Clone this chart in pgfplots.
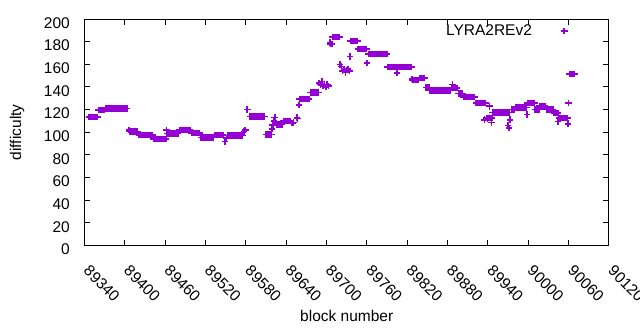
\documentclass[border=0pt]{standalone}
\usepackage{fontspec}
\setmainfont{Liberation Sans}
\usepackage{pgfplots}
\pgfplotsset{compat=1.18}
\definecolor{gpviolet}{RGB}{148,0,211}
\begin{document}
\fontsize{15.5}{18}\selectfont
\begin{tikzpicture}
\useasboundingbox (-84.5pt,-84.5pt) rectangle (555.5pt,245.5pt);
\begin{axis}[
  at={(0pt,0pt)}, anchor=south west,
  scale only axis, width=524.5pt, height=226.5pt,
  xmin=89340, xmax=90120, ymin=0, ymax=200,
  xtick={89340,89400,89460,89520,89580,89640,89700,89760,89820,89880,89940,90000,90060,90120},
  xticklabels={89340,89400,89460,89520,89580,89640,89700,89760,89820,89880,89940,90000,90060,90120},
  ytick={0,20,40,60,80,100,120,140,160,180,200},
  yticklabels={0,20,40,60,80,100,120,140,160,180,200},
  scaled x ticks=false,
  xtick pos=both, ytick pos=both,
  tick align=inside,
  major tick length=5.5pt,
  tick style={line width=1pt, black},
  axis line style={line width=1pt},
  xticklabel style={xshift=2pt, yshift=-22.5pt, rotate=-45, anchor=west, inner sep=0pt},
  yticklabel style={xshift=-14.5pt, yshift=-4pt, anchor=east, inner sep=0pt},
  xlabel={block number},
  ylabel={difficulty},
  xlabel style={at={(axis description cs:0.5,0)}, anchor=center, yshift=-70.5pt, inner sep=0pt},
  ylabel style={at={(axis description cs:-0.1287,0.5)}, anchor=center, inner sep=0pt},
  legend style={draw=none, fill=none, at={(0.689,0.947)}, anchor=west, inner sep=0pt,
    nodes={inner sep=0pt}, /tikz/every odd column/.append style={column sep=29pt}},
  legend plot pos=right,
  legend image code/.code={\draw[#1] plot coordinates {(0pt,0pt)};},
]
\addplot[only marks, mark=+, color=gpviolet, mark size=3.3pt, mark options={line width=1.5pt}] coordinates {
(89347,113.5)(89349,113.5)(89351,113.5)(89353,113.5)(89355,113.5)(89357,113.5)(89359,113.5)
(89361,119.5)(89363,119.5)(89365,119.5)(89367,119.5)(89369,119.5)
(89371,121)(89373,121)(89375,121)(89377,121)(89379,121)(89381,121)(89383,121)(89385,121)(89387,121)(89389,121)(89391,121)(89393,121)(89395,121)(89397,121)(89399,121)(89401,121)(89403,121)
(89406,102)
(89407,100.5)(89409,100.5)(89411,100.5)(89413,100.5)(89415,100.5)(89417,100.5)(89419,100.5)
(89421,97.5)(89423,97.5)(89425,97.5)(89427,97.5)(89429,97.5)(89431,97.5)(89433,97.5)(89435,97.5)(89437,97.5)(89439,97.5)(89441,97.5)
(89443,94)(89445,94)(89447,94)(89449,94)(89451,94)(89453,94)(89455,94)(89457,94)(89459,94)(89461,94)
(89462,102)
(89463,99)(89465,99)(89467,99)(89469,99)(89471,99)(89473,99)(89475,99)(89477,99)(89479,99)
(89481,102)(89483,102)(89485,102)(89487,102)(89489,102)(89491,102)(89493,102)(89495,102)(89497,102)
(89499,99.5)(89501,99.5)(89503,99.5)(89505,99.5)(89507,99.5)(89509,99.5)(89511,99.5)
(89513,95.5)(89515,95.5)(89517,95.5)(89519,95.5)(89521,95.5)(89523,95.5)(89525,95.5)(89527,95.5)(89529,95.5)(89531,95.5)
(89533,97.5)(89535,97.5)(89537,97.5)(89539,97.5)(89541,97.5)(89543,97.5)(89545,97.5)
(89547,97)(89549,92)(89551,95)(89553,97)(89555,97)(89557,97)(89559,97)(89561,97)(89563,97)(89565,97)(89567,97)(89569,97)(89571,97)(89573,97)(89575,97)
(89577,100.7)(89579,102)(89582,120)
(89586,114)(89588,114)(89590,114)(89592,114)(89594,114)(89596,114)(89598,114)(89600,114)(89602,114)(89604,114)(89606,114)(89608,114)
(89610,98)(89612,98)(89614,98)(89616,98)(89618,98)
(89619,103)(89620,106.6)(89622,110)(89623,113)(89624,108)
(89626,107)(89628,107)(89630,107)(89632,107)(89634,107)
(89636,110)(89638,110)(89640,110)(89642,110)(89644,110)(89646,110)
(89648,108)(89650,108)(89651,108.7)(89656,113)(89657,112)(89659,124)
(89660,129.5)(89662,129.5)(89664,129.5)(89666,129.5)(89668,129.5)(89670,129.5)(89672,129.5)(89674,129.5)
(89676,135)(89678,135)(89680,135)(89682,135)(89684,135)(89686,135)(89688,135)
(89689,143.5)(89691,142)(89693,145)(89695,141)(89697,142)(89699,140)(89701,142)(89703,141)
(89705,179)(89706,178)(89708,178)
(89709,184)(89711,184)(89713,184)(89715,184)(89717,184)(89719,184)
(89720,160)(89722,158)(89724,154)(89726,155)(89728,153)(89730,155)(89732,156)(89734,154)
(89735,167)
(89736,180.5)(89738,180.5)(89740,180.5)(89742,180.5)(89744,180.5)(89746,180.5)
(89747,173.5)(89749,173.5)(89751,173.5)(89753,173.5)(89755,173.5)(89757,173.5)(89759,173.5)
(89760,161)
(89762,169)(89764,169)(89766,169)(89768,169)(89770,169)(89772,169)(89774,169)(89776,169)(89778,169)(89780,169)(89782,169)(89784,169)(89786,169)(89788,169)(89790,169)
(89791,157.5)(89793,157.5)(89795,157.5)(89797,157.5)(89799,157.5)(89801,157.5)(89803,157.5)
(89805,152.4)
(89806,157.5)(89808,157.5)(89810,157.5)(89812,157.5)(89814,157.5)(89816,157.5)(89818,157.5)(89820,157.5)(89822,157.5)(89824,157.5)(89826,157.5)
(89827,147)
(89828,146)(89830,146)(89832,146)(89834,146)(89836,146)
(89838,148)(89840,148)(89842,148)(89844,148)(89846,148)
(89848,139.5)(89850,139.5)(89852,139.5)
(89854,137)(89856,137)(89858,137)(89860,137)(89862,137)(89864,137)(89866,137)(89868,137)(89870,137)(89872,137)(89874,137)(89876,137)(89878,137)(89880,137)(89882,137)(89884,137)
(89887,142)
(89886,139)(89888,139)(89890,139)(89892,139)(89894,139)
(89896,134)(89898,134)(89900,134)(89902,134)
(89904,131)(89906,131)(89908,131)(89910,131)(89912,131)(89914,131)(89916,131)(89918,131)(89920,131)
(89922,126)(89924,126)(89926,126)(89928,126)(89930,126)(89932,126)(89934,126)(89936,126)
(89935,111)(89939,112)(89942,123)
(89938,112.5)(89940,112.5)(89942,112.5)(89944,112.5)(89946,112.5)
(89945,108.7)
(89947,117.5)(89949,117.5)(89951,117.5)(89953,117.5)(89955,117.5)(89957,117.5)(89959,117.5)(89961,117.5)(89963,117.5)(89965,117.5)(89967,117.5)(89969,117.5)(89971,117.5)
(89970,105.8)(89971,103.7)(89973,111)
(89975,120)(89977,120)(89979,120)
(89981,122)(89983,122)(89985,122)(89987,122)(89989,122)(89991,122)(89993,122)(89995,122)(89997,122)
(89998,115.5)
(89999,126)(90001,126)(90003,126)(90005,126)(90007,126)(90009,126)
(90010,120)(90012,120)(90014,120)(90016,120)
(90017,123)(90019,123)(90021,123)(90023,123)(90025,123)
(90027,120)(90029,120)(90031,120)(90033,120)(90035,120)(90037,120)
(90038,117)(90040,117)(90042,117)(90044,117)
(90044,109.6)
(90046,112.5)(90048,112.5)(90050,112.5)(90052,112.5)(90054,112.5)(90056,112.5)(90058,112.5)
(90059,107.5)(90060,125.8)
(90061,151.3)(90063,151.3)(90065,151.3)(90067,151.3)(90069,151.3)
};
\addlegendentry{LYRA2REv2}
\end{axis}
\end{tikzpicture}
\end{document}
